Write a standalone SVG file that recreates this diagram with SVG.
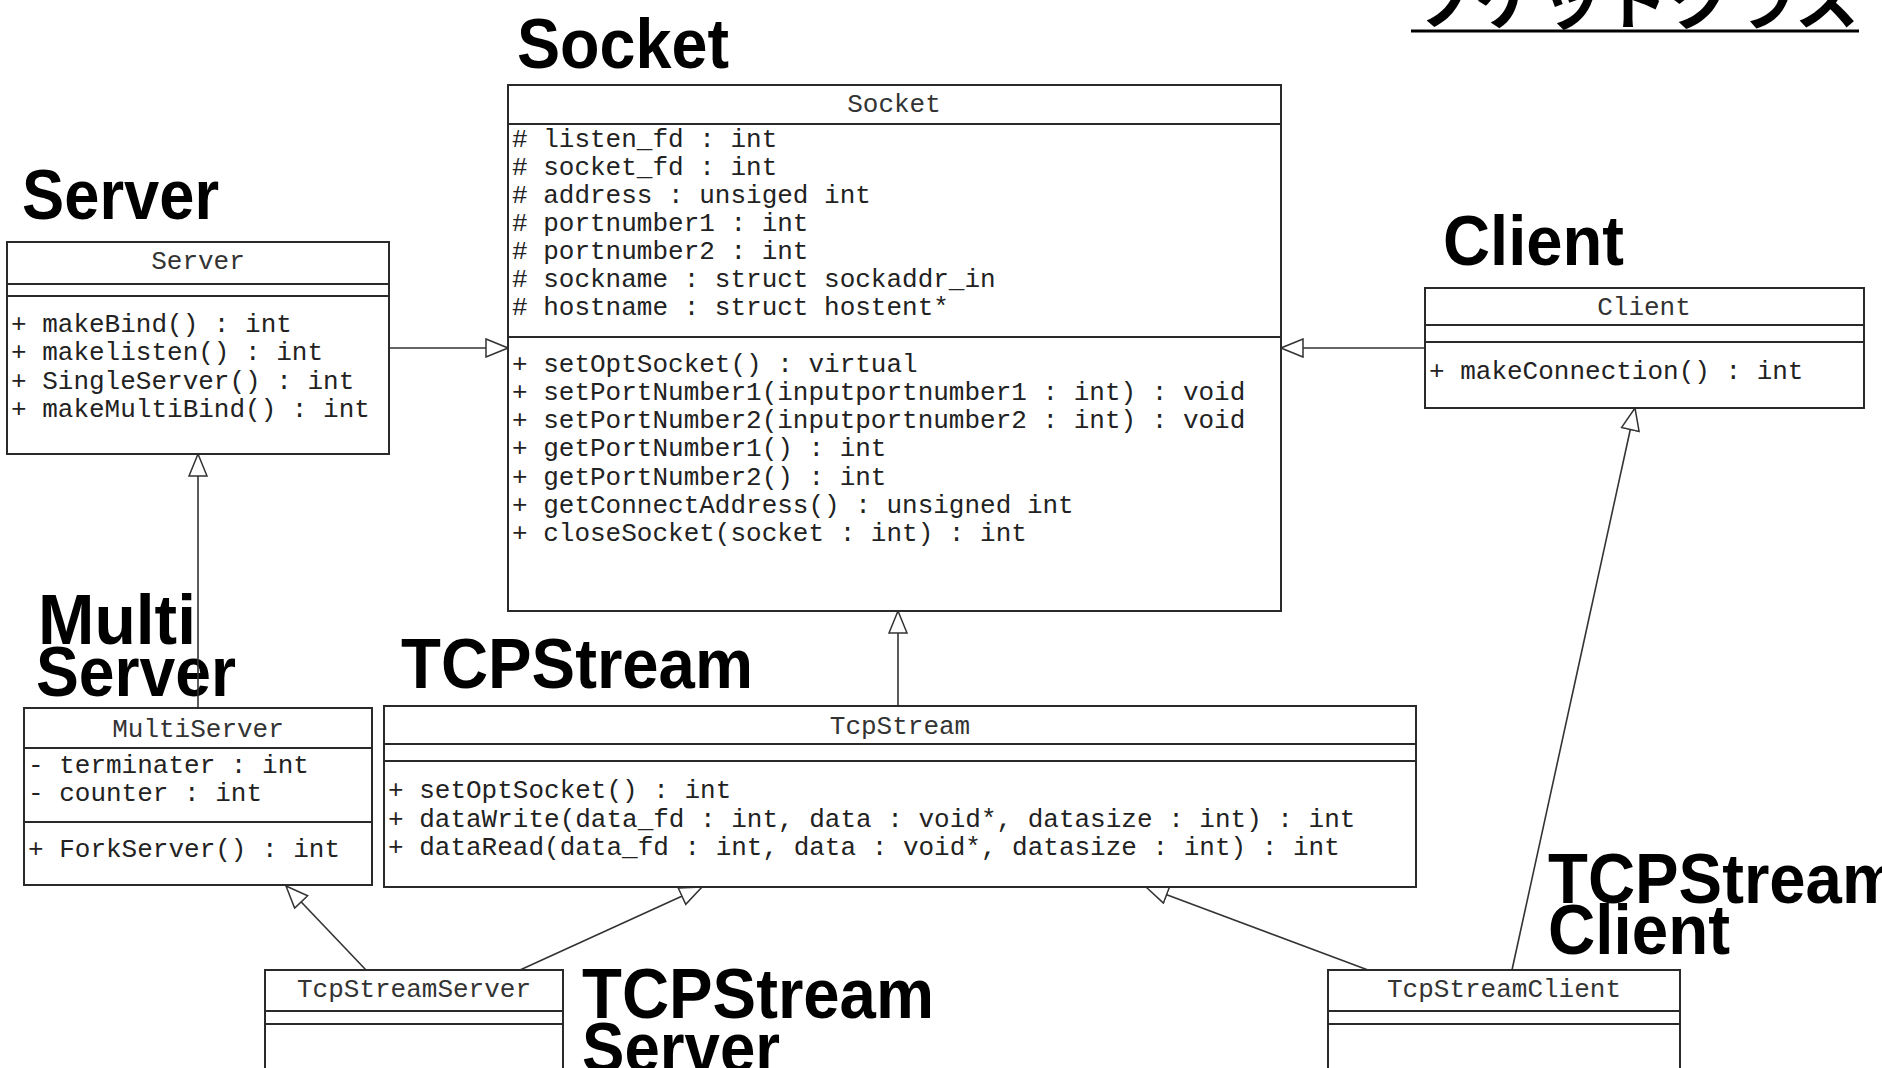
<svg xmlns="http://www.w3.org/2000/svg" width="1882" height="1068" viewBox="0 0 1882 1068">
<defs>
<marker id="gen" markerUnits="userSpaceOnUse" markerWidth="24" markerHeight="20" viewBox="0 0 24 20" refX="23" refY="10" orient="auto">
<path d="M1,1 L23,10 L1,19 Z" fill="#fff" stroke="#333" stroke-width="1.5"/>
</marker>
</defs>
<style>
.box{fill:#fff;stroke:#2a2a2a;stroke-width:2}
.div{stroke:#2a2a2a;stroke-width:2}
.m{font-family:"Liberation Mono","Courier New",monospace;font-size:26px;fill:#222}
.t{font-family:"Liberation Mono","Courier New",monospace;font-size:26px;fill:#333;text-anchor:middle}
.big{font-family:"Liberation Sans",Arial,sans-serif;font-weight:bold;font-size:70px;fill:#000}
.jp{font-family:"Noto Sans CJK JP","Noto Sans CJK SC",sans-serif;font-weight:bold;font-size:64px;fill:#000}
.c{fill:none;stroke:#333;stroke-width:1.6}
</style>
<rect width="1882" height="1068" fill="#fff"/>

<g id="title">
<text class="jp" x="1411" y="24" textLength="448" lengthAdjust="spacingAndGlyphs">ソケットクラス</text>
<line x1="1411" y1="31" x2="1859" y2="31" stroke="#000" stroke-width="3"/>
</g>

<g id="labels">
<text class="big" x="517" y="68" textLength="212" lengthAdjust="spacingAndGlyphs">Socket</text>
<text class="big" x="22" y="219" textLength="197" lengthAdjust="spacingAndGlyphs">Server</text>
<text class="big" x="1443" y="265" textLength="181" lengthAdjust="spacingAndGlyphs">Client</text>
<text class="big" x="38" y="644" textLength="158" lengthAdjust="spacingAndGlyphs">Multi</text>
<text class="big" x="36" y="696" textLength="200" lengthAdjust="spacingAndGlyphs">Server</text>
<text class="big" x="401" y="688" textLength="352" lengthAdjust="spacingAndGlyphs">TCPStream</text>
<text class="big" x="1548" y="903" textLength="352" lengthAdjust="spacingAndGlyphs">TCPStream</text>
<text class="big" x="1548" y="954" textLength="182" lengthAdjust="spacingAndGlyphs">Client</text>
<text class="big" x="582" y="1018" textLength="352" lengthAdjust="spacingAndGlyphs">TCPStream</text>
<text class="big" x="582" y="1072" textLength="198" lengthAdjust="spacingAndGlyphs">Server</text>
</g>

<g id="connectors">
<line class="c" x1="389" y1="348" x2="508" y2="348" marker-end="url(#gen)"/>
<line class="c" x1="1425" y1="348" x2="1281" y2="348" marker-end="url(#gen)"/>
<line class="c" x1="198" y1="708" x2="198" y2="454" marker-end="url(#gen)"/>
<line class="c" x1="898" y1="706" x2="898" y2="611" marker-end="url(#gen)"/>
<line class="c" x1="366" y1="970" x2="286" y2="886" marker-end="url(#gen)"/>
<line class="c" x1="520" y1="970" x2="702" y2="887" marker-end="url(#gen)"/>
<line class="c" x1="1368" y1="970" x2="1146" y2="887" marker-end="url(#gen)"/>
<line class="c" x1="1512" y1="970" x2="1635" y2="408" marker-end="url(#gen)"/>
</g>

<g id="Socket">
<rect class="box" x="508" y="85" width="773" height="526"/>
<line class="div" x1="508" y1="124" x2="1281" y2="124"/>
<line class="div" x1="508" y1="337" x2="1281" y2="337"/>
<text class="t" x="894" y="112">Socket</text>
<text class="m" x="512" y="147"># listen_fd : int</text>
<text class="m" x="512" y="175"># socket_fd : int</text>
<text class="m" x="512" y="203"># address : unsiged int</text>
<text class="m" x="512" y="231"># portnumber1 : int</text>
<text class="m" x="512" y="259"># portnumber2 : int</text>
<text class="m" x="512" y="287"># sockname : struct sockaddr_in</text>
<text class="m" x="512" y="315"># hostname : struct hostent*</text>
<text class="m" x="512" y="372">+ setOptSocket() : virtual</text>
<text class="m" x="512" y="400">+ setPortNumber1(inputportnumber1 : int) : void</text>
<text class="m" x="512" y="428">+ setPortNumber2(inputportnumber2 : int) : void</text>
<text class="m" x="512" y="456">+ getPortNumber1() : int</text>
<text class="m" x="512" y="485">+ getPortNumber2() : int</text>
<text class="m" x="512" y="513">+ getConnectAddress() : unsigned int</text>
<text class="m" x="512" y="541">+ closeSocket(socket : int) : int</text>
</g>

<g id="Server">
<rect class="box" x="7" y="242" width="382" height="212"/>
<line class="div" x1="7" y1="284" x2="389" y2="284"/>
<line class="div" x1="7" y1="296" x2="389" y2="296"/>
<text class="t" x="198" y="269">Server</text>
<text class="m" x="11" y="332">+ makeBind() : int</text>
<text class="m" x="11" y="360">+ makelisten() : int</text>
<text class="m" x="11" y="389">+ SingleServer() : int</text>
<text class="m" x="11" y="417">+ makeMultiBind() : int</text>
</g>

<g id="Client">
<rect class="box" x="1425" y="288" width="439" height="120"/>
<line class="div" x1="1425" y1="325" x2="1864" y2="325"/>
<line class="div" x1="1425" y1="342" x2="1864" y2="342"/>
<text class="t" x="1644" y="315">Client</text>
<text class="m" x="1429" y="379">+ makeConnection() : int</text>
</g>

<g id="MultiServer">
<rect class="box" x="24" y="708" width="348" height="177"/>
<line class="div" x1="24" y1="748" x2="372" y2="748"/>
<line class="div" x1="24" y1="822" x2="372" y2="822"/>
<text class="t" x="198" y="737">MultiServer</text>
<text class="m" x="28" y="773">- terminater : int</text>
<text class="m" x="28" y="801">- counter : int</text>
<text class="m" x="28" y="857">+ ForkServer() : int</text>
</g>

<g id="TcpStream">
<rect class="box" x="384" y="706" width="1032" height="181"/>
<line class="div" x1="384" y1="744" x2="1416" y2="744"/>
<line class="div" x1="384" y1="761" x2="1416" y2="761"/>
<text class="t" x="900" y="734">TcpStream</text>
<text class="m" x="388" y="798">+ setOptSocket() : int</text>
<text class="m" x="388" y="827">+ dataWrite(data_fd : int, data : void*, datasize : int) : int</text>
<text class="m" x="388" y="855">+ dataRead(data_fd : int, data : void*, datasize : int) : int</text>
</g>

<g id="TcpStreamServer">
<rect class="box" x="265" y="970" width="298" height="110"/>
<line class="div" x1="265" y1="1011" x2="563" y2="1011"/>
<line class="div" x1="265" y1="1024" x2="563" y2="1024"/>
<text class="t" x="414" y="997">TcpStreamServer</text>
</g>

<g id="TcpStreamClient">
<rect class="box" x="1328" y="970" width="352" height="110"/>
<line class="div" x1="1328" y1="1011" x2="1680" y2="1011"/>
<line class="div" x1="1328" y1="1024" x2="1680" y2="1024"/>
<text class="t" x="1504" y="997">TcpStreamClient</text>
</g>
</svg>
